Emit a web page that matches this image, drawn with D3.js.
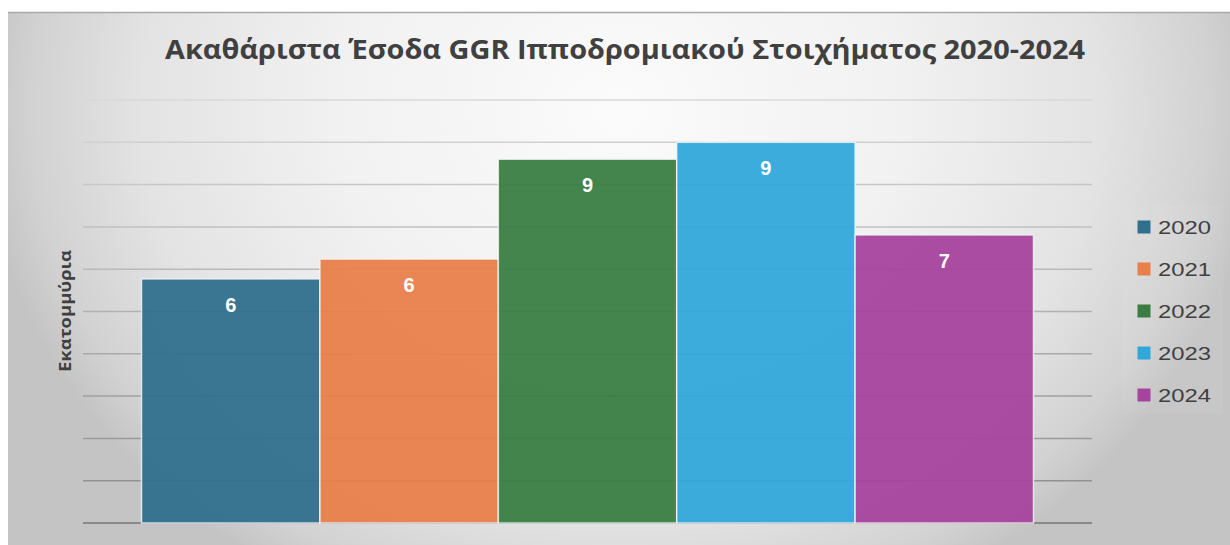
<!DOCTYPE html>
<html>
<head>
<meta charset="utf-8">
<script src="https://cdn.jsdelivr.net/npm/d3@7"></script>
<style>
  html, body { margin: 0; padding: 0; background: #ffffff; }
  svg { display: block; }
</style>
</head>
<body>
<svg id="chart" width="1230" height="545"></svg>
<script>
// ---- data ----
const years = ["2020", "2021", "2022", "2023", "2024"];
const values = [5.77, 6.24, 8.6, 9.0, 6.81];           // millions
const valueLabels = ["6", "6", "9", "9", "7"];
const colors = ["#306f8d", "#e8804b", "#3a7d43", "#32a8da", "#a7459e"];
const gridTicks = [0, 1, 2, 3, 4, 5, 6, 7, 8, 9, 10];
const title = "Ακαθάριστα Έσοδα GGR Ιπποδρομιακού Στοιχήματος 2020-2024";
const yTitle = "Εκατομμύρια";

// ---- layout ----
const svg = d3.select("#chart");
const W = 1230, H = 545;
const plot = { left: 83, right: 1092, top: 100, bottom: 523 };

const defs = svg.append("defs");
const rg = defs.append("radialGradient")
  .attr("id", "bg")
  .attr("gradientUnits", "userSpaceOnUse")
  .attr("cx", 620).attr("cy", 110).attr("r", 640)
  .attr("gradientTransform", "translate(620,110) scale(1,0.85) translate(-620,-110)");
[[0, "#fbfbfb"], [0.45, "#f1f1f1"], [0.75, "#e3e3e3"], [0.92, "#d2d2d2"], [1, "#c4c4c4"]]
  .forEach(([o, c]) => rg.append("stop").attr("offset", o).attr("stop-color", c));

svg.append("rect").attr("x", 8).attr("y", 12).attr("width", W - 8).attr("height", H - 12)
  .attr("fill", "url(#bg)");
svg.append("line").attr("x1", 8).attr("x2", W).attr("y1", 12.5).attr("y2", 12.5)
  .attr("stroke", "#a9a9a9").attr("stroke-width", 1.5);

// ---- scales ----
const x = d3.scaleBand().domain(years).range([plot.left, plot.right])
  .paddingInner(0).paddingOuter(0.328);
const y = d3.scaleLinear().domain([0, 10]).range([plot.bottom, plot.top]);
const gridColor = d3.scaleLinear().domain([10, 0]).range(["#d8d8d8", "#8a8a8a"]);

// gridlines
svg.append("g").selectAll("line").data(gridTicks).join("line")
  .attr("x1", plot.left).attr("x2", plot.right)
  .attr("y1", d => y(d)).attr("y2", d => y(d))
  .attr("stroke", d => gridColor(d))
  .attr("stroke-width", d => d === 0 ? 2 : 1.5);

// bars
svg.append("g").selectAll("rect").data(years).join("rect")
  .attr("x", d => x(d))
  .attr("y", (d, i) => y(values[i]))
  .attr("width", x.bandwidth())
  .attr("height", (d, i) => y(0) - y(values[i]))
  .attr("fill", (d, i) => colors[i])
  .attr("fill-opacity", 0.95)
  .attr("stroke", "#f4f8fa").attr("stroke-opacity", 0.8).attr("stroke-width", 1.5);

// value labels
svg.append("g").selectAll("text").data(years).join("text")
  .attr("x", d => x(d) + x.bandwidth() / 2)
  .attr("y", (d, i) => y(values[i]) + 33)
  .attr("text-anchor", "middle")
  .attr("font-family", "'Liberation Sans', Arial, sans-serif")
  .attr("font-weight", 700).attr("font-size", 20)
  .attr("fill", "#ffffff")
  .text((d, i) => valueLabels[i]);

// title
svg.append("text")
  .attr("x", 625).attr("y", 59)
  .attr("text-anchor", "middle")
  .attr("font-family", "'Open Sans', sans-serif")
  .attr("font-weight", 700).attr("font-size", 26)
  .attr("fill", "#404040")
  .attr("textLength", 920).attr("lengthAdjust", "spacingAndGlyphs")
  .text(title);

// y-axis title
svg.append("text")
  .attr("transform", "translate(70.5,311) rotate(-90)")
  .attr("text-anchor", "middle")
  .attr("font-family", "'Open Sans', sans-serif")
  .attr("font-weight", 700).attr("font-size", 15.5)
  .attr("fill", "#404040")
  .attr("textLength", 122).attr("lengthAdjust", "spacingAndGlyphs")
  .text(yTitle);

// legend
const legend = svg.append("g");
legend.append("rect").attr("x", 1122).attr("y", 205).attr("width", 101).attr("height", 208)
  .attr("fill", "#ffffff").attr("fill-opacity", 0.05);
const ly = d3.scalePoint().domain(years).range([227, 395]);
const items = legend.selectAll("g").data(years).join("g")
  .attr("transform", d => `translate(0,${ly(d)})`);
items.append("rect").attr("x", 1137.5).attr("y", -6.5).attr("width", 13).attr("height", 13)
  .attr("fill", (d, i) => colors[i]);
items.append("text").attr("x", 1158).attr("y", 6.7)
  .attr("font-family", "'Liberation Sans', Arial, sans-serif")
  .attr("font-size", 18.5).attr("fill", "#404040")
  .attr("textLength", 53).attr("lengthAdjust", "spacingAndGlyphs")
  .text(d => d);
</script>
</body>
</html>
